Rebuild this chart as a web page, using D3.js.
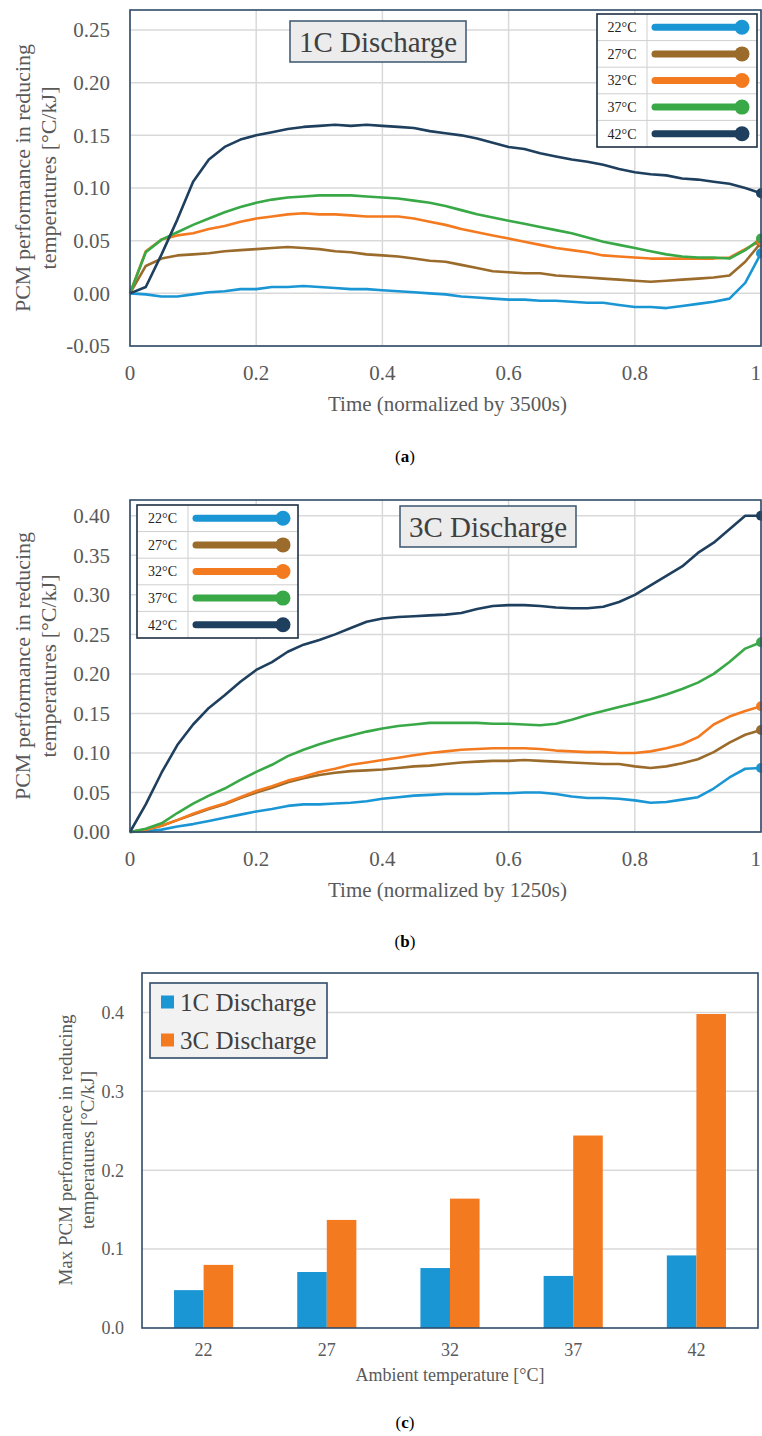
<!DOCTYPE html>
<html>
<head>
<meta charset="utf-8">
<script src="https://cdn.jsdelivr.net/npm/d3@7"></script>
<style>
  body { margin: 0; background: #fff; }
  svg { display: block; }
  svg text { font-family: "Liberation Serif", "DejaVu Serif", serif; }
</style>
</head>
<body>
<svg id="fig" width="762" height="1436" font-family="Liberation Serif, DejaVu Serif, serif"></svg>
<script>
// ---- shared series labels and colours ----
const temps = ["22°C", "27°C", "32°C", "37°C", "42°C"];
const seriesColors = ["#1b96d4", "#9a6b2a", "#f47a20", "#39a947", "#1e3f5e"];

// normalized time samples (shared by both discharge panels)
const timeNorm = [0, 0.025, 0.05, 0.075, 0.1, 0.125, 0.15, 0.175, 0.2, 0.225, 0.25, 0.275, 0.3, 0.325,
  0.35, 0.375, 0.4, 0.425, 0.45, 0.475, 0.5, 0.525, 0.55, 0.575, 0.6, 0.625, 0.65, 0.675, 0.7, 0.725,
  0.75, 0.775, 0.8, 0.825, 0.85, 0.875, 0.9, 0.925, 0.95, 0.975, 1.0];

// ---- 1C discharge, PCM performance [°C/kJ] ----
const c1_22 = [0, -0.001, -0.003, -0.003, -0.001, 0.001, 0.002, 0.004, 0.004, 0.006, 0.006, 0.007, 0.006, 0.005,
  0.004, 0.004, 0.003, 0.002, 0.001, 0.000, -0.001, -0.003, -0.004, -0.005, -0.006, -0.006, -0.007, -0.007, -0.008, -0.009,
  -0.009, -0.011, -0.013, -0.013, -0.014, -0.012, -0.010, -0.008, -0.005, 0.010, 0.038];
const c1_27 = [0, 0.026, 0.033, 0.036, 0.037, 0.038, 0.040, 0.041, 0.042, 0.043, 0.044, 0.043, 0.042, 0.040,
  0.039, 0.037, 0.036, 0.035, 0.033, 0.031, 0.030, 0.027, 0.024, 0.021, 0.020, 0.019, 0.019, 0.017, 0.016, 0.015,
  0.014, 0.013, 0.012, 0.011, 0.012, 0.013, 0.014, 0.015, 0.017, 0.030, 0.048];
const c1_32 = [0, 0.040, 0.051, 0.055, 0.057, 0.061, 0.064, 0.068, 0.071, 0.073, 0.075, 0.076, 0.075, 0.075,
  0.074, 0.073, 0.073, 0.073, 0.071, 0.068, 0.065, 0.061, 0.058, 0.055, 0.052, 0.049, 0.046, 0.043, 0.041, 0.039,
  0.036, 0.035, 0.034, 0.033, 0.033, 0.033, 0.033, 0.033, 0.034, 0.042, 0.050];
const c1_37 = [0, 0.039, 0.051, 0.058, 0.065, 0.071, 0.077, 0.082, 0.086, 0.089, 0.091, 0.092, 0.093, 0.093,
  0.093, 0.092, 0.091, 0.090, 0.088, 0.086, 0.083, 0.079, 0.075, 0.072, 0.069, 0.066, 0.063, 0.060, 0.057, 0.053,
  0.049, 0.046, 0.043, 0.040, 0.037, 0.035, 0.034, 0.034, 0.033, 0.041, 0.052];
const c1_42 = [0, 0.006, 0.037, 0.070, 0.106, 0.127, 0.139, 0.146, 0.150, 0.153, 0.156, 0.158, 0.159, 0.160,
  0.159, 0.160, 0.159, 0.158, 0.157, 0.154, 0.152, 0.150, 0.147, 0.143, 0.139, 0.137, 0.133, 0.130, 0.127, 0.125,
  0.122, 0.118, 0.115, 0.113, 0.112, 0.109, 0.108, 0.106, 0.104, 0.100, 0.095];

// ---- 3C discharge, PCM performance [°C/kJ] ----
const c3_22 = [0, 0.001, 0.003, 0.007, 0.010, 0.014, 0.018, 0.022, 0.026, 0.029, 0.033, 0.035, 0.035, 0.036,
  0.037, 0.039, 0.042, 0.044, 0.046, 0.047, 0.048, 0.048, 0.048, 0.049, 0.049, 0.050, 0.050, 0.048, 0.045, 0.043,
  0.043, 0.042, 0.040, 0.037, 0.038, 0.041, 0.044, 0.055, 0.069, 0.080, 0.081];
const c3_27 = [0, 0.003, 0.008, 0.015, 0.022, 0.029, 0.035, 0.043, 0.050, 0.056, 0.063, 0.068, 0.072, 0.075,
  0.077, 0.078, 0.079, 0.081, 0.083, 0.084, 0.086, 0.088, 0.089, 0.090, 0.090, 0.091, 0.090, 0.089, 0.088, 0.087,
  0.086, 0.086, 0.083, 0.081, 0.083, 0.087, 0.092, 0.101, 0.113, 0.123, 0.129];
const c3_32 = [0, 0.003, 0.008, 0.015, 0.023, 0.030, 0.036, 0.044, 0.052, 0.058, 0.065, 0.070, 0.076, 0.080,
  0.085, 0.088, 0.091, 0.094, 0.097, 0.100, 0.102, 0.104, 0.105, 0.106, 0.106, 0.106, 0.105, 0.103, 0.102, 0.101,
  0.101, 0.100, 0.100, 0.102, 0.106, 0.111, 0.120, 0.136, 0.146, 0.153, 0.159];
const c3_37 = [0, 0.004, 0.011, 0.024, 0.036, 0.046, 0.055, 0.066, 0.076, 0.085, 0.096, 0.104, 0.111, 0.117,
  0.122, 0.127, 0.131, 0.134, 0.136, 0.138, 0.138, 0.138, 0.138, 0.137, 0.137, 0.136, 0.135, 0.137, 0.142, 0.148,
  0.153, 0.158, 0.163, 0.168, 0.174, 0.181, 0.189, 0.200, 0.215, 0.232, 0.240];
const c3_42 = [0, 0.035, 0.075, 0.110, 0.136, 0.157, 0.173, 0.190, 0.205, 0.215, 0.228, 0.237, 0.243, 0.250,
  0.258, 0.266, 0.270, 0.272, 0.273, 0.274, 0.275, 0.277, 0.282, 0.286, 0.287, 0.287, 0.286, 0.284, 0.283, 0.283,
  0.285, 0.291, 0.300, 0.312, 0.324, 0.336, 0.353, 0.366, 0.383, 0.400, 0.400];

// ---- axis ticks ----
const xTicksTime = [0, 0.2, 0.4, 0.6, 0.8, 1];
const xTickLabelsTime = ["0", "0.2", "0.4", "0.6", "0.8", "1"];
const yTicks1C = [-0.05, 0, 0.05, 0.10, 0.15, 0.20, 0.25];
const yTickLabels1C = ["-0.05", "0.00", "0.05", "0.10", "0.15", "0.20", "0.25"];
const yTicks3C = [0, 0.05, 0.10, 0.15, 0.20, 0.25, 0.30, 0.35, 0.40];
const yTickLabels3C = ["0.00", "0.05", "0.10", "0.15", "0.20", "0.25", "0.30", "0.35", "0.40"];

// ---- maximum PCM performance per ambient temperature ----
const ambientTemps = ["22", "27", "32", "37", "42"];
const max1C = [0.048, 0.071, 0.076, 0.066, 0.092];
const max3C = [0.080, 0.137, 0.164, 0.244, 0.398];
const barSeries = ["1C Discharge", "3C Discharge"];
const barColors = ["#1b96d4", "#f47a20"];
const yTicksBar = [0, 0.1, 0.2, 0.3, 0.4];
const yTickLabelsBar = ["0.0", "0.1", "0.2", "0.3", "0.4"];

const frameColor = "#2f4c69";
const gridColor = "#d9d9d9";
const tickColor = "#595959";
const serif = "Liberation Serif, DejaVu Serif, serif";

const svg = d3.select("#fig");
svg.append("rect").attr("width", 762).attr("height", 1436).attr("fill", "#fff");

function caption(letter, cx, baseline) {
  const t = svg.append("text").attr("x", cx).attr("y", baseline).attr("text-anchor", "middle")
    .attr("font-family", serif).attr("font-size", 17).attr("fill", "#000");
  t.append("tspan").text("(");
  t.append("tspan").attr("font-weight", "bold").text(letter);
  t.append("tspan").text(")");
}

function yTitle(lines, cx, cy, size, gap) {
  lines.forEach((ln, i) => {
    svg.append("text")
      .attr("transform", `translate(${cx + i * gap},${cy}) rotate(-90)`)
      .attr("text-anchor", "middle").attr("dominant-baseline", "central")
      .attr("font-family", serif).attr("font-size", size).attr("fill", tickColor).text(ln);
  });
}

function linePanel(cfg) {
  const x = d3.scaleLinear().domain([0, 1]).range([cfg.left, cfg.right]);
  const y = d3.scaleLinear().domain(cfg.yDomain).range([cfg.bottom, cfg.top]);
  const g = svg.append("g").attr("font-family", serif);

  // grid
  g.selectAll(".gy").data(cfg.yTicks).join("line")
    .attr("x1", cfg.left).attr("x2", cfg.right)
    .attr("y1", d => y(d)).attr("y2", d => y(d))
    .attr("stroke", gridColor).attr("stroke-width", 1.5);
  g.selectAll(".gx").data(xTicksTime).join("line")
    .attr("x1", d => x(d)).attr("x2", d => x(d))
    .attr("y1", cfg.top).attr("y2", cfg.bottom)
    .attr("stroke", gridColor).attr("stroke-width", 1.5);

  // tick labels
  g.selectAll(".ty").data(cfg.yTicks).join("text")
    .attr("x", cfg.left - 20).attr("y", d => y(d)).attr("dy", "0.35em")
    .attr("text-anchor", "end").attr("font-size", 21).attr("fill", tickColor)
    .text((d, i) => cfg.yTickLabels[i]);
  g.selectAll(".tx").data(xTicksTime).join("text")
    .attr("x", d => x(d)).attr("y", cfg.bottom + 34)
    .attr("text-anchor", (d, i) => i === xTicksTime.length - 1 ? "end" : "middle")
    .attr("font-size", 21).attr("fill", tickColor)
    .text((d, i) => xTickLabelsTime[i]);

  // x title
  g.append("text").attr("x", (cfg.left + cfg.right) / 2 + 2).attr("y", cfg.bottom + 65)
    .attr("text-anchor", "middle").attr("font-size", 21).attr("fill", tickColor).text(cfg.xTitle);

  // series
  const line = d3.line().x((d, i) => x(timeNorm[i])).y(d => y(d));
  cfg.series.forEach((s, k) => {
    g.append("path").datum(s).attr("d", line).attr("fill", "none")
      .attr("stroke", seriesColors[k]).attr("stroke-width", 2.6).attr("stroke-linejoin", "round");
  });
  cfg.series.forEach((s, k) => {
    g.append("circle").attr("cx", x(timeNorm[timeNorm.length - 1])).attr("cy", y(s[s.length - 1]))
      .attr("r", 5).attr("fill", seriesColors[k]);
  });

  // frame
  g.append("rect").attr("x", cfg.left).attr("y", cfg.top)
    .attr("width", cfg.right - cfg.left).attr("height", cfg.bottom - cfg.top)
    .attr("fill", "none").attr("stroke", frameColor).attr("stroke-width", 1.6);

  // title box
  const tb = cfg.titleBox;
  g.append("rect").attr("x", tb.x).attr("y", tb.y).attr("width", tb.w).attr("height", tb.h)
    .attr("fill", "#ececec").attr("stroke", "#3b5670").attr("stroke-width", 1.5);
  g.append("text").attr("x", tb.x + tb.w / 2).attr("y", tb.y + tb.h / 2).attr("dy", "0.35em")
    .attr("text-anchor", "middle").attr("font-size", 29).attr("fill", "#404040").text(cfg.title);

  // legend table
  const lg = cfg.legend;
  const rowH = lg.h / temps.length;
  const L = g.append("g");
  L.append("rect").attr("x", lg.x).attr("y", lg.y).attr("width", lg.w).attr("height", lg.h)
    .attr("fill", "#fff");
  temps.forEach((t, k) => {
    const cy = lg.y + rowH * (k + 0.5);
    if (k > 0) {
      L.append("line").attr("x1", lg.x).attr("x2", lg.x + lg.w)
        .attr("y1", lg.y + rowH * k).attr("y2", lg.y + rowH * k)
        .attr("stroke", "#cfcfcf").attr("stroke-width", 1);
    }
    L.append("text").attr("x", lg.x + lg.div / 2).attr("y", cy).attr("dy", "0.35em")
      .attr("text-anchor", "middle").attr("font-size", 14).attr("fill", "#222").text(t);
    L.append("line").attr("x1", lg.x + lg.div + 8).attr("x2", lg.x + lg.w - 15)
      .attr("y1", cy).attr("y2", cy).attr("stroke", seriesColors[k])
      .attr("stroke-width", 7).attr("stroke-linecap", "round");
    L.append("circle").attr("cx", lg.x + lg.w - 15).attr("cy", cy).attr("r", 7.5)
      .attr("fill", seriesColors[k]);
  });
  L.append("line").attr("x1", lg.x + lg.div).attr("x2", lg.x + lg.div)
    .attr("y1", lg.y).attr("y2", lg.y + lg.h).attr("stroke", "#cfcfcf").attr("stroke-width", 1);
  L.append("rect").attr("x", lg.x).attr("y", lg.y).attr("width", lg.w).attr("height", lg.h)
    .attr("fill", "none").attr("stroke", "#1d2f42").attr("stroke-width", 1.6);
}

// (a) 1C discharge
linePanel({
  left: 130, right: 761, top: 10, bottom: 346,
  yDomain: [-0.05, 0.269], yTicks: yTicks1C, yTickLabels: yTickLabels1C,
  series: [c1_22, c1_27, c1_32, c1_37, c1_42],
  title: "1C Discharge", titleBox: { x: 290, y: 21, w: 176, h: 41 },
  legend: { x: 597, y: 14, w: 160, h: 133, div: 50 },
  xTitle: "Time (normalized by 3500s)"
});
yTitle(["PCM performance in reducing", "temperatures [°C/kJ]"], 22, 178, 22, 26);
caption("a", 405, 462);

// (b) 3C discharge
linePanel({
  left: 130, right: 761, top: 500, bottom: 832,
  yDomain: [0, 0.42], yTicks: yTicks3C, yTickLabels: yTickLabels3C,
  series: [c3_22, c3_27, c3_32, c3_37, c3_42],
  title: "3C Discharge", titleBox: { x: 400, y: 506, w: 176, h: 41 },
  legend: { x: 137, y: 505, w: 161, h: 133, div: 51 },
  xTitle: "Time (normalized by 1250s)"
});
yTitle(["PCM performance in reducing", "temperatures [°C/kJ]"], 22, 666, 22, 26);
caption("b", 405, 947);

// (c) maximum values as grouped bars
(function barPanel() {
  const left = 142, right = 758, top = 973, bottom = 1328;
  const x0 = d3.scaleBand().domain(ambientTemps).range([left, right]).padding(0);
  const bw = x0.bandwidth();
  const x1 = d3.scaleBand().domain(barSeries).range([bw * 0.26, bw * 0.74]).padding(0);
  const y = d3.scaleLinear().domain([0, 0.45]).range([bottom, top]);
  const g = svg.append("g").attr("font-family", serif);

  g.selectAll(".gy").data(yTicksBar.slice(1)).join("line")
    .attr("x1", left).attr("x2", right).attr("y1", d => y(d)).attr("y2", d => y(d))
    .attr("stroke", gridColor).attr("stroke-width", 1.5);

  const values = [max1C, max3C];
  ambientTemps.forEach((c, i) => {
    barSeries.forEach((s, k) => {
      g.append("rect").attr("x", x0(c) + x1(s)).attr("width", x1.bandwidth())
        .attr("y", y(values[k][i])).attr("height", y(0) - y(values[k][i]))
        .attr("fill", barColors[k]);
    });
  });

  g.selectAll(".ty").data(yTicksBar).join("text")
    .attr("x", left - 18).attr("y", d => y(d)).attr("dy", "0.35em")
    .attr("text-anchor", "end").attr("font-size", 18).attr("fill", tickColor)
    .text((d, i) => yTickLabelsBar[i]);
  g.selectAll(".tx").data(ambientTemps).join("text")
    .attr("x", d => x0(d) + bw / 2).attr("y", bottom + 28)
    .attr("text-anchor", "middle").attr("font-size", 18).attr("fill", tickColor).text(d => d);
  g.append("text").attr("x", 450).attr("y", bottom + 53).attr("text-anchor", "middle")
    .attr("font-size", 18).attr("fill", tickColor).text("Ambient temperature [°C]");

  g.append("rect").attr("x", left).attr("y", top).attr("width", right - left).attr("height", bottom - top)
    .attr("fill", "none").attr("stroke", frameColor).attr("stroke-width", 1.6);

  // legend
  const lx = 150, ly = 983, lw = 177, lh = 75;
  g.append("rect").attr("x", lx).attr("y", ly).attr("width", lw).attr("height", lh)
    .attr("fill", "#f2f2f2").attr("stroke", frameColor).attr("stroke-width", 1.6);
  barSeries.forEach((s, k) => {
    const cy = ly + 19 + k * 38;
    g.append("rect").attr("x", 161).attr("y", cy - 6.5).attr("width", 13).attr("height", 13)
      .attr("fill", barColors[k]);
    g.append("text").attr("x", 180).attr("y", cy).attr("dy", "0.35em")
      .attr("font-size", 25).attr("fill", "#404040").text(s);
  });

  yTitle(["Max PCM performance in reducing", "temperatures [°C/kJ]"], 65, 1150, 19, 22);
})();
caption("c", 405, 1428);
</script>
</body>
</html>
